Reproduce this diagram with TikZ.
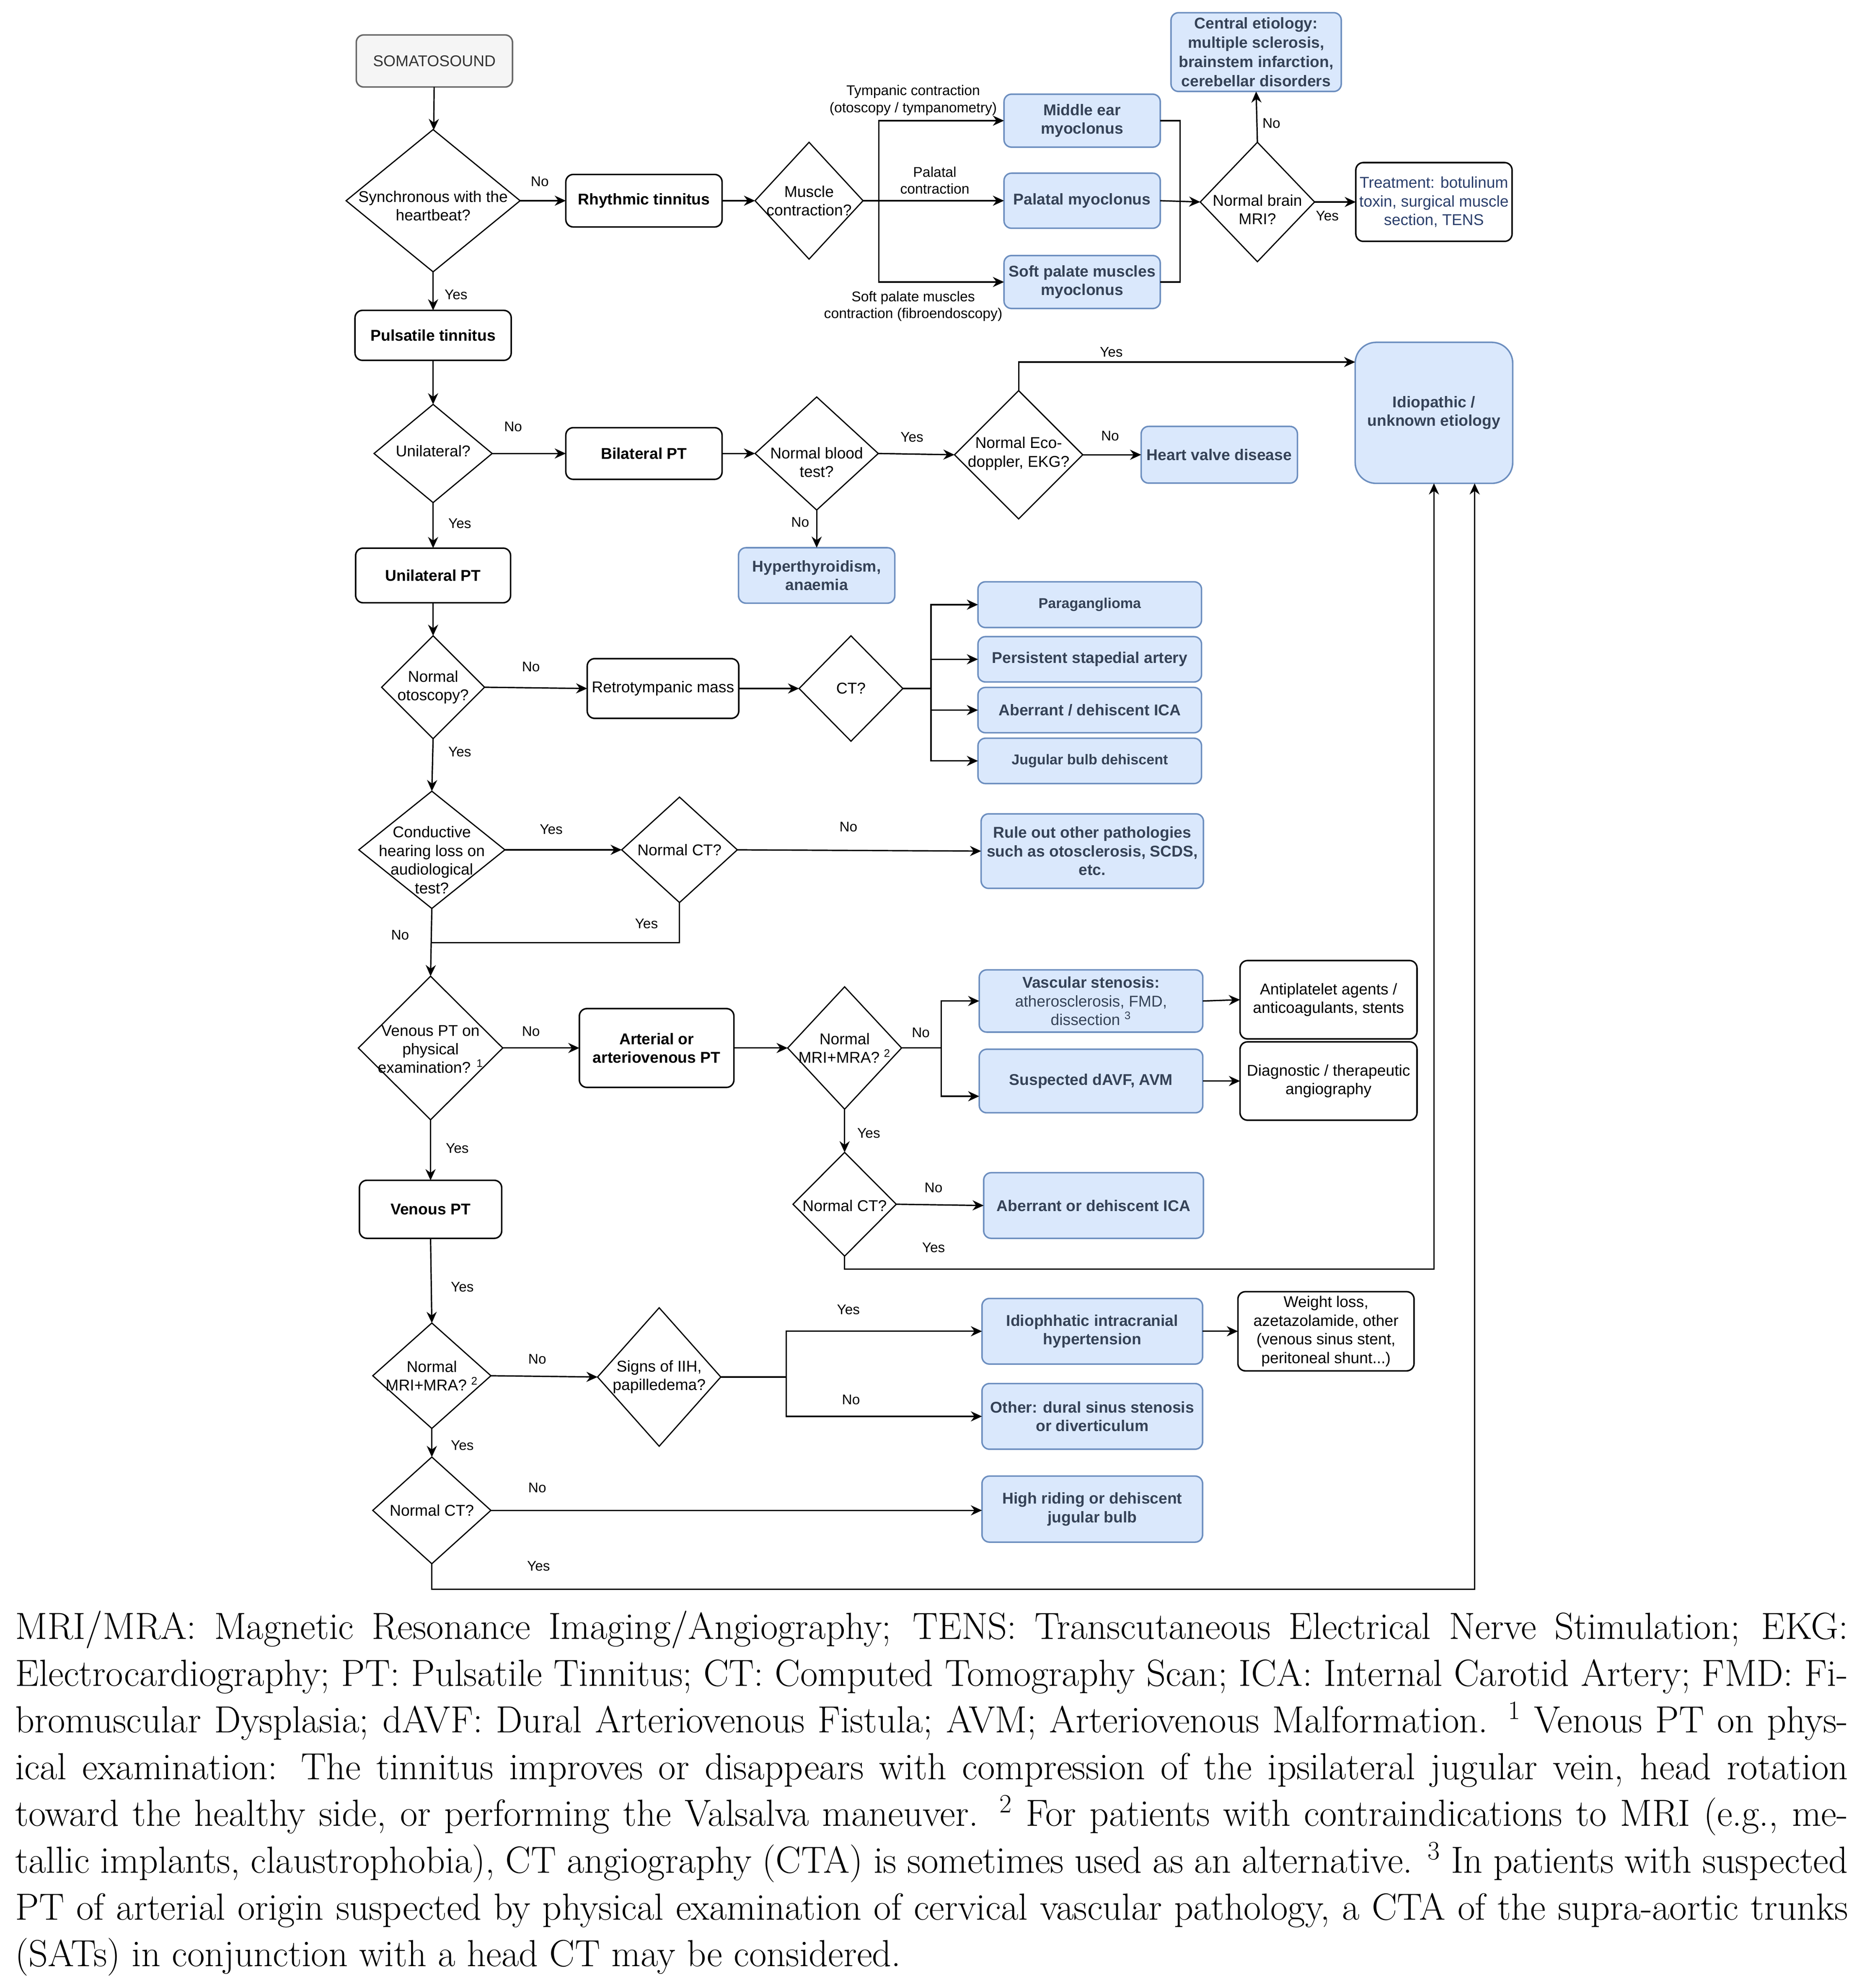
\documentclass[tikz,border=0pt]{standalone}
\usepackage{fontspec}
\newfontfamily\diagfont{Liberation Sans}
\newcommand*{\capline}[1]{\makebox[43.29cm][s]{#1}}
\definecolor{bluefill}{HTML}{DAE8FC}
\definecolor{blueline}{HTML}{6C8EBF}
\definecolor{bluetext}{HTML}{354257}
\definecolor{navy}{HTML}{2B3F6C}
\definecolor{greyfill}{HTML}{F5F5F5}
\definecolor{greyline}{HTML}{666666}
\definecolor{darkgrey}{HTML}{333333}
\usetikzlibrary{arrows.meta}
\usetikzlibrary{shapes.geometric}
\tikzstyle{base}=[inner sep=0pt, outer sep=0pt]
\tikzstyle{txt}=[font=\diagfont\fontsize{10.5pt}{12.5pt}\selectfont, align=center]
\tikzstyle{ans}=[font=\diagfont\fontsize{9.4pt}{11pt}\selectfont]
\tikzstyle{branchtxt}=[font=\diagfont\fontsize{9.5pt}{11.4pt}\selectfont, align=center]
\tikzstyle{box}=[txt, draw=black, line width=1pt, fill=white, rounded corners=5pt, minimum width=3.69cm, minimum height=1.22cm]
\tikzstyle{boldbox}=[box, font=\diagfont\bfseries\fontsize{10.5pt}{12.5pt}\selectfont]
\tikzstyle{greybox}=[box, draw=greyline, fill=greyfill, text=darkgrey]
\tikzstyle{bluebox}=[boldbox, draw=blueline, fill=bluefill, text=bluetext]
\tikzstyle{smallblue}=[bluebox, font=\diagfont\bfseries\fontsize{9.6pt}{11.5pt}\selectfont]
\tikzstyle{decision}=[draw=black, line width=0.8pt, shape=diamond]
\tikzstyle{wire}=[line width=0.9pt]
\tikzstyle{arr}=[wire, -{Stealth[length=7.5pt, width=6.8pt]}]

\begin{document}
\begin{tikzpicture}[base, x=0.03cm, y=-0.03cm]
    \path [use as bounding box] (0,0) rectangle (1466,1565);

    % somatosound branch
    \node [greybox, minimum height=1.23cm] (som) at (342,48) {SOMATOSOUND};
    \node [decision, minimum width=4.11cm, minimum height=3.36cm] (d1) at (341,158) {};
    \node [txt] (d1t) at (341,162) {Synchronous with the\\heartbeat?};
    \node [boldbox, minimum height=1.24cm] (rhy) at (507,158) {Rhythmic tinnitus};
    \node [decision, minimum width=2.55cm, minimum height=2.76cm] (d2) at (637,158) {};
    \node [txt] (d2t) at (637,158) {Muscle\\contraction?};
    \node [bluebox, minimum height=1.25cm] (mem) at (852,95) {Middle ear\\myoclonus};
    \node [bluebox, minimum height=1.3cm] (pal) at (852,158) {Palatal myoclonus};
    \node [bluebox, minimum height=1.25cm] (spm) at (852,222) {Soft palate muscles\\myoclonus};
    \node [decision, minimum width=2.7cm, minimum height=2.82cm] (d3) at (990,159) {};
    \node [txt] (d3t) at (990,165) {Normal brain\\MRI?};
    \node [bluebox, minimum width=4.02cm, minimum height=1.86cm, font=\diagfont\bfseries\fontsize{10.5pt}{13pt}\selectfont] (cen) at (989,41) {Central etiology:\\multiple sclerosis,\\brainstem infarction,\\cerebellar disorders};
    \node [box, text=navy, minimum height=1.86cm] (trt) at (1129,159) {Treatment: botulinum\\toxin, surgical muscle\\section, TENS};
    \node [branchtxt] (tymp) at (719,79) {Tympanic contraction\\(otoscopy / tympanometry)};
    \node [branchtxt] (palc) at (736,142) {Palatal\\contraction};
    \node [branchtxt] (softc) at (719,241) {Soft palate muscles\\contraction (fibroendoscopy)};

    % pulsatile tinnitus
    \node [boldbox, minimum height=1.18cm] (pul) at (341,264) {Pulsatile tinnitus};
    \node [decision, minimum width=2.79cm, minimum height=2.32cm] (d4) at (341,357) {};
    \node [txt] (d4t) at (341,355) {Unilateral?};
    \node [boldbox] (bil) at (507,357) {Bilateral PT};
    \node [decision, minimum width=2.91cm, minimum height=2.67cm] (d5) at (643,357) {};
    \node [txt] (d5t) at (643,364) {Normal blood\\test?};
    \node [bluebox, minimum height=1.31cm] (hyp) at (643,453) {Hyperthyroidism,\\anaemia};
    \node [decision, minimum width=3.03cm, minimum height=3.03cm] (d6) at (802,358) {};
    \node [txt] (d6t) at (802,357) {Normal Eco-\\doppler, EKG?};
    \node [bluebox, minimum height=1.34cm] (hvd) at (960,358) {Heart valve disease};
    \node [bluebox, minimum width=3.72cm, minimum height=3.33cm, rounded corners=14pt] (idi) at (1129,325) {Idiopathic /\\unknown etiology};

    % unilateral
    \node [boldbox, minimum width=3.66cm, minimum height=1.29cm] (unp) at (341,453) {Unilateral PT};
    \node [decision, minimum width=2.43cm, minimum height=2.43cm] (d7) at (341,541) {};
    \node [txt] (d7t) at (341,541) {Normal\\otoscopy?};
    \node [box, minimum width=3.58cm, minimum height=1.41cm] (ret) at (522,542) {Retrotympanic mass};
    \node [decision, minimum width=2.45cm, minimum height=2.49cm] (d8) at (670,542) {};
    \node [txt] (d8t) at (670,542) {CT?};
    \node [smallblue, minimum width=5.28cm, minimum height=1.08cm] (par) at (858,476) {Paraganglioma};
    \node [bluebox, minimum width=5.28cm, minimum height=1.07cm] (psa) at (858,519) {Persistent stapedial artery};
    \node [bluebox, minimum width=5.28cm, minimum height=1.07cm] (adi) at (858,559) {Aberrant / dehiscent ICA};
    \node [smallblue, minimum width=5.28cm, minimum height=1.07cm] (jbd) at (858,599) {Jugular bulb dehiscent};
    \node [decision, minimum width=3.45cm, minimum height=2.77cm] (d9) at (340,669) {};
    \node [txt] (d9t) at (340,677) {Conductive\\hearing loss on\\audiological\\test?};
    \node [decision, minimum width=2.73cm, minimum height=2.49cm] (d10) at (535,669) {};
    \node [txt] (d10t) at (535,669) {Normal CT?};
    \node [bluebox, minimum width=5.25cm, minimum height=1.76cm] (rul) at (860,670) {Rule out other pathologies\\such as otosclerosis, SCDS,\\etc.};

    % arterial / venous
    \node [decision, minimum width=3.41cm, minimum height=3.39cm] (d11) at (339,825) {};
    \node [txt] (d11t) at (339,826) {Venous PT on\\physical\\examination? \textsuperscript{1}};
    \node [boldbox, minimum width=3.65cm, minimum height=1.86cm] (art) at (517,825) {Arterial or\\arteriovenous PT};
    \node [decision, minimum width=2.69cm, minimum height=2.89cm] (d12) at (665,825) {};
    \node [txt] (d12t) at (665,825) {Normal\\MRI+MRA? \textsuperscript{2}};
    \node [bluebox, minimum width=5.28cm, minimum height=1.47cm] (vas) at (859,788) {Vascular stenosis:\\{\mdseries atherosclerosis, FMD,}\\{\mdseries dissection \textsuperscript{3}}};
    \node [bluebox, minimum width=5.28cm, minimum height=1.5cm] (sus) at (859,851) {Suspected dAVF, AVM};
    \node [box, minimum width=4.18cm, minimum height=1.85cm] (ant) at (1046,787) {Antiplatelet agents /\\anticoagulants, stents};
    \node [box, minimum width=4.18cm, minimum height=1.85cm] (dia) at (1046,851) {Diagnostic / therapeutic\\angiography};
    \node [decision, minimum width=2.44cm, minimum height=2.45cm] (d13) at (665,948) {};
    \node [txt] (d13t) at (665,949) {Normal CT?};
    \node [bluebox, minimum width=5.19cm, minimum height=1.55cm] (aic) at (861,949) {Aberrant or dehiscent ICA};
    \node [boldbox, minimum width=3.36cm, minimum height=1.37cm] (ven) at (339,952) {Venous PT};
    \node [decision, minimum width=2.79cm, minimum height=2.49cm] (d14) at (340,1083) {};
    \node [txt] (d14t) at (340,1083) {Normal\\MRI+MRA? \textsuperscript{2}};
    \node [decision, minimum width=2.91cm, minimum height=3.27cm] (d15) at (519,1084) {};
    \node [txt] (d15t) at (519,1084) {Signs of IIH,\\papilledema?};
    \node [bluebox, minimum width=5.21cm, minimum height=1.55cm] (iih) at (860,1048) {Idiophhatic intracranial\\hypertension};
    \node [box, minimum width=4.16cm, minimum height=1.87cm] (wgt) at (1044,1048) {Weight loss,\\azetazolamide, other\\(venous sinus stent,\\peritoneal shunt...)};
    \node [bluebox, minimum width=5.21cm, minimum height=1.55cm] (oth) at (860,1115) {Other: dural sinus stenosis\\or diverticulum};
    \node [decision, minimum width=2.79cm, minimum height=2.52cm] (d16) at (340,1189) {};
    \node [txt] (d16t) at (340,1189) {Normal CT?};
    \node [bluebox, minimum width=5.21cm, minimum height=1.56cm] (hrj) at (860,1188) {High riding or dehiscent\\jugular bulb};

    % helper points
    \coordinate (b2) at (692,158);
    \coordinate (m3) at (929,158);
    \coordinate (ytop) at (0,285);
    \coordinate (b8) at (733,542);
    \coordinate (j9) at (339,742);
    \coordinate (b12) at (741,825);
    \coordinate (ysus) at (0,863);
    \coordinate (yb1) at (0,999);
    \coordinate (b15) at (619,1084);
    \coordinate (yb2) at (0,1251);

    % connectors
    \draw [arr] (som) -- (d1);
    \draw [arr] (d1.east) -- (rhy.west);
    \draw [arr] (rhy.east) -- (d2.west);
    \draw [wire] (d2.east) -- (b2);
    \draw [arr] (b2) |- (mem.west);
    \draw [arr] (b2) -- (pal.west);
    \draw [arr] (b2) |- (spm.west);
    \draw [wire] (mem.east) -| (m3);
    \draw [wire] (spm.east) -| (m3);
    \draw [arr] (pal.east) -- (d3.west);
    \draw [arr] (d3.north) -- (cen.south);
    \draw [arr] (d3.east) -- (trt.west);
    \draw [arr] (d1.south) -- (pul.north);
    \draw [arr] (pul.south) -- (d4.north);
    \draw [arr] (d4.east) -- (bil.west);
    \draw [arr] (bil.east) -- (d5.west);
    \draw [arr] (d5.south) -- (hyp.north);
    \draw [arr] (d5.east) -- (d6.west);
    \draw [arr] (d6.east) -- (hvd.west);
    \draw [arr] (d6.north) |- (idi.west |- ytop);
    \draw [arr] (d4.south) -- (unp.north);
    \draw [arr] (unp.south) -- (d7.north);
    \draw [arr] (d7.east) -- (ret.west);
    \draw [arr] (ret.east) -- (d8.west);
    \draw [wire] (d8.east) -- (b8);
    \draw [arr] (b8) |- (par.west);
    \draw [arr] (b8) |- (psa.west);
    \draw [arr] (b8) |- (adi.west);
    \draw [arr] (b8) |- (jbd.west);
    \draw [arr] (d7.south) -- (d9.north);
    \draw [arr] (d9.east) -- (d10.west);
    \draw [arr] (d10.east) -- (rul.west);
    \draw [wire] (d10.south) |- (j9);
    \draw [arr] (d9.south) -- (d11.north);
    \draw [arr] (d11.east) -- (art.west);
    \draw [arr] (art.east) -- (d12.west);
    \draw [wire] (d12.east) -- (b12);
    \draw [arr] (b12) |- (vas.west);
    \draw [arr] (b12) |- (sus.west |- ysus);
    \draw [arr] (vas.east) -- (ant.west);
    \draw [arr] (sus.east) -- (dia.west);
    \draw [arr] (d12.south) -- (d13.north);
    \draw [arr] (d13.east) -- (aic.west);
    \draw [arr] (d13.south) |- (idi.south |- yb1) -- (idi.south);
    \draw [arr] (d11.south) -- (ven.north);
    \draw [arr] (ven.south) -- (d14.north);
    \draw [arr] (d14.east) -- (d15.west);
    \draw [wire] (d15.east) -- (b15);
    \draw [arr] (b15) |- (iih.west);
    \draw [arr] (b15) |- (oth.west);
    \draw [arr] (iih.east) -- (wgt.west);
    \draw [arr] (d14.south) -- (d16.north);
    \draw [arr] (d16.east) -- (hrj.west |- d16.east);
    \draw [arr] (d16.south) |- (idi.-60 |- yb2) -- (idi.-60);

    % answers
    \node [ans] (a1) at (425,143) {No};
    \node [ans] (a2) at (359,232) {Yes};
    \node [ans] (a3) at (1001,97) {No};
    \node [ans] (a4) at (1045,170) {Yes};
    \node [ans] (a5) at (404,336) {No};
    \node [ans] (a6) at (362,412) {Yes};
    \node [ans] (a7) at (718,344) {Yes};
    \node [ans] (a8) at (630,411) {No};
    \node [ans] (a9) at (875,277) {Yes};
    \node [ans] (a10) at (874,343) {No};
    \node [ans] (a11) at (418,525) {No};
    \node [ans] (a12) at (362,592) {Yes};
    \node [ans] (a13) at (434,653) {Yes};
    \node [ans] (a14) at (668,651) {No};
    \node [ans] (a15) at (509,727) {Yes};
    \node [ans] (a16) at (315,736) {No};
    \node [ans] (a17) at (418,812) {No};
    \node [ans] (a18) at (725,813) {No};
    \node [ans] (a19) at (684,892) {Yes};
    \node [ans] (a20) at (735,935) {No};
    \node [ans] (a21) at (735,982) {Yes};
    \node [ans] (a22) at (360,904) {Yes};
    \node [ans] (a23) at (364,1013) {Yes};
    \node [ans] (a24) at (423,1070) {No};
    \node [ans] (a25) at (668,1031) {Yes};
    \node [ans] (a26) at (670,1102) {No};
    \node [ans] (a27) at (364,1138) {Yes};
    \node [ans] (a28) at (423,1171) {No};
    \node [ans] (a29) at (424,1233) {Yes};

    % caption
    \node [anchor=base west, align=left, font=\fontsize{25.4pt}{31.4pt}\selectfont] (cap) at (12,1548) {%
        \capline{MRI/MRA: Magnetic Resonance Imaging/Angiography; TENS: Transcutaneous Electrical Nerve Stimulation; EKG:}\\
        \capline{Electrocardiography; PT: Pulsatile Tinnitus; CT: Computed Tomography Scan; ICA: Internal Carotid Artery; FMD: Fi-}\\
        \capline{bromuscular Dysplasia; dAVF: Dural Arteriovenous Fistula; AVM; Arteriovenous Malformation. \textsuperscript{1} Venous PT on phys-}\\
        \capline{ical examination: The tinnitus improves or disappears with compression of the ipsilateral jugular vein, head rotation}\\
        \capline{toward the healthy side, or performing the Valsalva maneuver. \textsuperscript{2} For patients with contraindications to MRI (e.g., me-}\\
        \capline{tallic implants, claustrophobia), CT angiography (CTA) is sometimes used as an alternative. \textsuperscript{3} In patients with suspected}\\
        \capline{PT of arterial origin suspected by physical examination of cervical vascular pathology, a CTA of the supra-aortic trunks}\\
        (SATs) in conjunction with a head CT may be considered.};
\end{tikzpicture}
\end{document}
